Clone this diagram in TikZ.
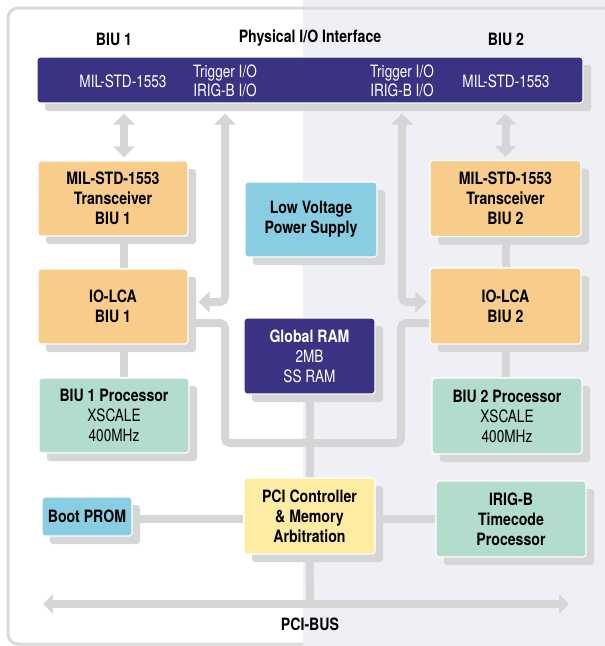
\documentclass[tikz,border=0pt]{standalone}
\usepackage{fontspec}
\setmainfont{TeX Gyre Heros}[FakeStretch=0.8, BoldFeatures={FakeStretch=0.83}]
\usetikzlibrary{arrows.meta,shadows,calc}
\definecolor{lgray}{RGB}{214,214,214}
\definecolor{framegray}{RGB}{218,218,218}
\definecolor{lav}{RGB}{239,239,246}
\definecolor{navy}{RGB}{58,51,131}
\definecolor{orangebox}{RGB}{248,204,138}
\definecolor{greenbox}{RGB}{178,220,204}
\definecolor{bluebox}{RGB}{136,205,225}
\definecolor{yellowbox}{RGB}{253,236,162}
\pgfdeclarelayer{bg}
\pgfsetlayers{bg,main}
\begin{document}
\begin{tikzpicture}[x=1pt,y=-1pt,
  box/.style={draw=white, line width=1.2pt, rounded corners=3pt, align=center, inner sep=0pt,
    font=\fontsize{17}{20}\selectfont,
    drop shadow={shadow xshift=8pt, shadow yshift=-8pt, fill=lgray, opacity=1}},
  bold/.style={font=\bfseries\fontsize{17}{20}\selectfont},
  bartext/.style={text=white, align=center, inner sep=0pt, font=\fontsize{17}{19}\selectfont},
  titletext/.style={inner sep=0pt, font=\bfseries\fontsize{17}{20}\selectfont},
  conn/.style={draw=lgray, line width=8pt, rounded corners=5pt},
  tipA/.tip={Triangle[width=21pt,length=11pt]},
  tipB/.tip={Triangle[width=19pt,length=10pt]}]
\useasboundingbox (0,0) rectangle (605,646);

% nodes
\node[box, fill=navy, minimum width=546pt, minimum height=46pt] (bar) at (310,80) {};
\node[bartext] (b1m) at (123,81) {MIL-STD-1553};
\node[bartext] (b1t) at (225,80.5) {Trigger I/O\\IRIG-B I/O};
\node[bartext] (b2t) at (402,80.5) {Trigger I/O\\IRIG-B I/O};
\node[bartext] (b2m) at (506,81) {MIL-STD-1553};

\node[titletext] (tbiu1) at (114,39) {BIU 1};
\node[titletext] (tphys) at (310,38) {Physical I/O Interface};
\node[titletext] (tbiu2) at (506,39) {BIU 2};

\node[box, bold, fill=orangebox, minimum width=150pt, minimum height=75pt] (trans1) at (113,198.5) {MIL-STD-1553\\Transceiver\\BIU 1};
\node[box, bold, fill=orangebox, minimum width=150pt, minimum height=75pt] (iolca1) at (113,306.5) {IO-LCA\\BIU 1};
\node[box, fill=greenbox, minimum width=150pt, minimum height=75pt] (proc1) at (114,415.5) {{\bfseries BIU 1 Processor}\\XSCALE\\400MHz};

\node[box, bold, fill=bluebox, minimum width=132pt, minimum height=75pt] (lvps) at (311,219.5) {Low Voltage\\Power Supply};
\node[box, fill=navy, text=white, minimum width=131pt, minimum height=76pt] (ram) at (309.5,356) {{\bfseries Global RAM}\\2MB\\SS RAM};

\node[box, bold, fill=orangebox, minimum width=151pt, minimum height=76pt] (trans2) at (505.5,198.5) {MIL-STD-1553\\Transceiver\\BIU 2};
\node[box, bold, fill=orangebox, minimum width=151pt, minimum height=76pt] (iolca2) at (505.5,306) {IO-LCA\\BIU 2};
\node[box, fill=greenbox, minimum width=150pt, minimum height=76pt] (proc2) at (507,416) {{\bfseries BIU 2 Processor}\\XSCALE\\400MHz};

\node[box, bold, fill=bluebox, minimum width=90pt, minimum height=39pt] (boot) at (87,516.5) {Boot PROM};
\node[box, bold, fill=yellowbox, minimum width=131pt, minimum height=76pt] (pci) at (309.5,516) {PCI Controller\\\& Memory\\Arbitration};
\node[box, bold, fill=greenbox, minimum width=150pt, minimum height=76pt] (irig) at (511,519) {IRIG-B\\Timecode\\Processor};

\node[titletext] (pcibus) at (310,624) {PCI-BUS};

% coordinates
\coordinate (c1) at (124,0);
\coordinate (c2) at (505.5,0);
\coordinate (aL) at (225,302);
\coordinate (aR) at (402,302);
\coordinate (lL) at (225,323);
\coordinate (lR) at (401,323);
\coordinate (jL) at (225,443);
\coordinate (jR) at (401,443);
\coordinate (hb) at (0,519);
\coordinate (busL) at (43,604);
\coordinate (busR) at (569,604);
\coordinate (busM) at (310,604);

\begin{pgfonlayer}{bg}
\fill[lav] (303,0) rectangle (605,646);
\draw[framegray, line width=3pt, rounded corners=10pt] (303,644) -- (8,644) -- (8,8) -- (625,8);

% bar to transceivers
\draw[conn, {tipA}-{tipA}] ($(bar.south -| c1)+(0,10)$) -- ($(trans1.north -| c1)+(0,-3)$);
\draw[conn, {tipA}-{tipA}] ($(bar.south -| c2)+(0,10)$) -- ($(trans2.north -| c2)+(0,-3)$);
% transceiver - io-lca - processor
\draw[conn] (trans1.south -| c1) -- (iolca1.north -| c1);
\draw[conn] (iolca1.south -| c1) -- (proc1.north -| c1);
\draw[conn] (trans2.south -| c2) -- (iolca2.north -| c2);
\draw[conn] (iolca2.south -| c2) -- (proc2.north -| c2);
% trigger / irig arrows
\draw[conn, {tipA}-{tipA}] ($(bar.south -| aL)+(0,10)$) -- (aL) -- ($(aL -| iolca1.east)+(10,0)$);
\draw[conn, {tipA}-{tipA}] ($(bar.south -| aR)+(0,10)$) -- (aR) -- ($(aR -| iolca2.west)+(-3,0)$);
% io-lca link
\draw[conn] (iolca1.east |- lL) -- (lL) -- (jL) -- (jR) -- (lR) -- (iolca2.west |- lR);
% ram to pci to bus
\draw[conn] (ram.south) -- (pci.north);
\draw[conn] (pci.south) -- (busM);
% boot / irig links
\draw[conn] (boot.east |- hb) -- (pci.west |- hb);
\draw[conn] (pci.east |- hb) -- (irig.west |- hb);
% bus
\draw[conn, {tipB}-{tipB}] (busL) -- (busR);
\end{pgfonlayer}
\end{tikzpicture}
\end{document}
